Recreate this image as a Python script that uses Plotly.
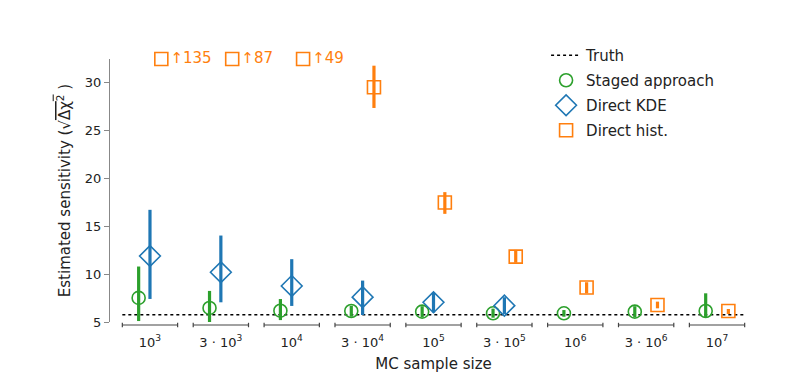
import plotly.graph_objects as go

categories = ["10<sup>3</sup>", "3 · 10<sup>3</sup>", "10<sup>4</sup>", "3 · 10<sup>4</sup>",
              "10<sup>5</sup>", "3 · 10<sup>5</sup>", "10<sup>6</sup>", "3 · 10<sup>6</sup>", "10<sup>7</sup>"]
truth = 5.75

staged_val = [7.52, 6.47, 6.18, 6.15, 6.08, 5.91, 5.91, 6.08, 6.15]
staged_hi = [10.8, 8.25, 7.4, 6.7, 6.65, 6.4, 6.25, 6.65, 8.0]
staged_lo = [5.1, 5.0, 5.2, 5.55, 5.5, 5.45, 5.55, 5.5, 5.5]

kde_val = [11.9, 10.2, 8.77, 7.6, 7.06, 6.71]
kde_hi = [16.73, 14.04, 11.57, 9.33, 8.07, 7.59]
kde_lo = [7.41, 7.06, 6.68, 5.73, 6.0, 5.84]

hist_idx = [3, 4, 5, 6, 7, 8]
hist_val = [29.55, 17.5, 11.84, 8.6, 6.78, 6.15]
hist_hi = [31.8, 18.58, 12.54, 9.16, 7.13, 6.36]
hist_lo = [27.38, 16.31, 11.2, 8.0, 6.43, 5.84]

hist_off_idx = [0, 1, 2]
hist_off_val = [135, 87, 49]

GREEN, BLUE, ORANGE = "#2ca02c", "#1f77b4", "#ff7f0e"
OFF = 0.16
Y_TOP = 32.5
HALF = 0.39

fig = go.Figure()

n = len(categories)
fig.add_trace(go.Scatter(x=[-HALF, n - 1 + HALF], y=[truth, truth], mode="lines",
                         line=dict(color="black", width=1.5, dash="dot"), name="Truth",
                         legendgroup="a"))


def err(vals, hi, lo):
    return dict(type="data", symmetric=False,
                array=[h - v for h, v in zip(hi, vals)],
                arrayminus=[v - l for v, l in zip(vals, lo)],
                thickness=3.2, width=0)


fig.add_trace(go.Scatter(x=[i - OFF for i in range(n)], y=staged_val, mode="markers",
                         marker=dict(symbol="circle-open", size=13, color=GREEN, line=dict(width=1.6)),
                         error_y=dict(**err(staged_val, staged_hi, staged_lo), color=GREEN),
                         name="Staged approach", cliponaxis=False, legendgroup="b"))
fig.add_trace(go.Scatter(x=list(range(len(kde_val))), y=kde_val, mode="markers",
                         marker=dict(symbol="diamond-open", size=16, color=BLUE, line=dict(width=1.6)),
                         error_y=dict(**err(kde_val, kde_hi, kde_lo), color=BLUE),
                         name="Direct KDE", cliponaxis=False, legendgroup="c"))
fig.add_trace(go.Scatter(x=[i + OFF for i in hist_idx], y=hist_val, mode="markers",
                         marker=dict(symbol="square-open", size=13, color=ORANGE, line=dict(width=1.6)),
                         error_y=dict(**err(hist_val, hist_hi, hist_lo), color=ORANGE),
                         name="Direct hist.", cliponaxis=False, legendgroup="d"))
fig.add_trace(go.Scatter(x=[i + OFF for i in hist_off_idx], y=[Y_TOP] * len(hist_off_idx),
                         mode="markers+text", text=["↑%d" % v for v in hist_off_val],
                         textposition="middle right", textfont=dict(color=ORANGE, size=15),
                         marker=dict(symbol="square-open", size=13, color=ORANGE, line=dict(width=1.6)),
                         showlegend=False, cliponaxis=False))

for i in range(n):
    for shp in [dict(x0=i - HALF, x1=i + HALF, y0=-0.0114, y1=-0.0114),
                dict(x0=i - HALF, x1=i - HALF, y0=-0.003, y1=-0.02),
                dict(x0=i + HALF, x1=i + HALF, y0=-0.003, y1=-0.02)]:
        fig.add_shape(type="line", xref="x", yref="paper", line=dict(color="#444", width=1.2), **shp)

fig.update_layout(
    width=789, height=385,
    margin=dict(l=102, r=40, t=51, b=71),
    paper_bgcolor="white", plot_bgcolor="white",
    font=dict(family="DejaVu Sans", size=13, color="#222"),
    showlegend=True,
    legend=dict(x=0.674, y=1.076, xanchor="left", yanchor="top", font=dict(size=15),
                bgcolor="rgba(0,0,0,0)", borderwidth=0, tracegroupgap=2.5, traceorder="grouped"),
    xaxis=dict(range=[-0.564, n - 1 + 0.564], tickvals=list(range(n)), ticktext=categories,
               showgrid=False, zeroline=False, showline=False, automargin=False,
               ticks="outside", ticklen=8, tickcolor="rgba(0,0,0,0)",
               title=dict(text="MC sample size", font=dict(size=15), standoff=9)),
    yaxis=dict(range=[5, Y_TOP], tickvals=[5, 10, 15, 20, 25, 30], automargin=False,
               showgrid=False, zeroline=False, showline=True, linecolor="#888", linewidth=1.2,
               ticks="outside", ticklen=5, tickcolor="#888",
               title=dict(text="Estimated sensitivity (√<span style='text-decoration:overline'>Δχ<sup>2</sup></span> )",
                          font=dict(size=15), standoff=10)),
)

fig.write_html("out.html")
